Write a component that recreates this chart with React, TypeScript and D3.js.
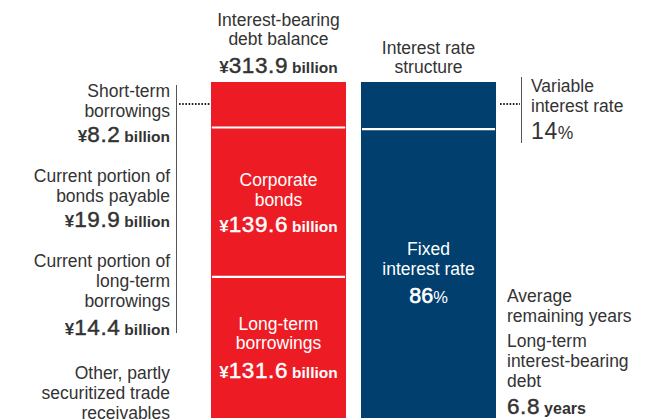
import React from "react";
import * as d3 from "d3";

const W = 659;
const H = 420;

const totalDebt = 313.9;
const debtSegments = [
  { key: "current", value: 42.5 },
  { key: "Corporate bonds", value: 139.6 },
  { key: "Long-term borrowings", value: 131.8 },
];
const debtLabels = [139.6, 131.6];
const currentItems = [
  { lines: ["Short-term", "borrowings"], value: 8.2 },
  { lines: ["Current portion of", "bonds payable"], value: 19.9 },
  { lines: ["Current portion of", "long-term", "borrowings"], value: 14.4 },
];
const otherLabel = ["Other, partly", "securitized trade", "receivables"];
const rateSegments = [
  { key: "Variable interest rate", value: 14 },
  { key: "Fixed interest rate", value: 86 },
];
const avgYears = 6.8;

const RED = "#ED1C24";
const BLUE = "#003F6E";
const TXT = "#333333";
const FONT = "'Liberation Sans', Arial, Helvetica, sans-serif";
const FS = 17.5;

function Billion({ x, y, v, anchor, fill }: { x: number; y: number; v: number; anchor: string; fill: string }) {
  return (
    <text x={x} y={y} textAnchor={anchor as any} fill={fill} fontFamily={FONT}>
      <tspan fontSize={17} fontWeight="bold">¥</tspan>
      <tspan fontSize={22.5} letterSpacing={0.6} stroke={fill} strokeWidth={0.45}>{v.toFixed(1)}</tspan>
      <tspan fontSize={15.5} fontWeight="bold" dx={4}>billion</tspan>
    </text>
  );
}

function Lines({ x, y, lines, anchor, fill, step = 20 }: { x: number; y: number; lines: string[]; anchor: string; fill: string; step?: number }) {
  return (
    <text x={x} y={y} textAnchor={anchor as any} fill={fill} fontFamily={FONT} fontSize={FS}>
      {lines.map((l, i) => (
        <tspan key={i} x={x} y={y + i * step}>{l}</tspan>
      ))}
    </text>
  );
}

export default function App() {
  const yDebt = d3.scaleLinear().domain([0, totalDebt]).range([82, 418]);
  const yRate = d3.scaleLinear().domain([0, 100]).range([82, 418]);
  const xBand = d3.scaleBand().domain(["debt", "rate"]).range([211, 496]).paddingInner(0.1);
  const bw = xBand.bandwidth();
  const xD = xBand("debt")!;
  const xR = xBand("rate")!;

  let acc = 0;
  const debtRects = debtSegments.map((s) => {
    const y0 = acc;
    acc += s.value;
    return { ...s, y0, y1: acc };
  });
  let acc2 = 0;
  const rateRects = rateSegments.map((s) => {
    const y0 = acc2;
    acc2 += s.value;
    return { ...s, y0, y1: acc2 };
  });

  const cxD = xD + bw / 2;
  const cxR = xR + bw / 2;

  const leftY = [97, 182, 267];
  const valueOffsets = [45, 45, 68];

  return (
    <svg width={W} height={H} style={{ position: "absolute", left: 0, top: 0, background: "#fff" }}>
      {/* bars */}
      {debtRects.map((r) => (
        <rect key={r.key} x={xD} y={yDebt(r.y0)} width={bw} height={yDebt(r.y1) - yDebt(r.y0)} fill={RED} />
      ))}
      {debtRects.slice(1).map((r) => (
        <line key={"s" + r.key} x1={xD + 1} x2={xD + bw - 1} y1={yDebt(r.y0)} y2={yDebt(r.y0)} stroke="#fff" strokeWidth={2.2} />
      ))}
      {rateRects.map((r) => (
        <rect key={r.key} x={xR} y={yRate(r.y0)} width={bw} height={yRate(r.y1) - yRate(r.y0)} fill={BLUE} />
      ))}
      {rateRects.slice(1).map((r) => (
        <line key={"s" + r.key} x1={xR + 1} x2={xR + bw - 1} y1={yRate(r.y0)} y2={yRate(r.y0)} stroke="#fff" strokeWidth={2.2} />
      ))}

      {/* titles */}
      <Lines x={cxD} y={26} lines={["Interest-bearing", "debt balance"]} anchor="middle" fill={TXT} step={19} />
      <Billion x={cxD} y={73} v={totalDebt} anchor="middle" fill={TXT} />
      <Lines x={cxR} y={54} lines={["Interest rate", "structure"]} anchor="middle" fill={TXT} step={19} />

      {/* left annotations */}
      <line x1={176.5} x2={176.5} y1={85} y2={333} stroke="#555" strokeWidth={1} />
      <line x1={179} x2={xD} y1={104} y2={104} stroke="#222" strokeWidth={1.8} strokeDasharray="1.6,1.6" />
      {currentItems.map((it, i) => (
        <g key={i}>
          <Lines x={170} y={leftY[i]} lines={it.lines} anchor="end" fill={TXT} />
          <Billion x={170} y={leftY[i] + valueOffsets[i]} v={it.value} anchor="end" fill={TXT} />
        </g>
      ))}
      <Lines x={170} y={379} lines={otherLabel} anchor="end" fill={TXT} />

      {/* inside red */}
      <Lines x={cxD} y={186} lines={["Corporate", "bonds"]} anchor="middle" fill="#fff" step={19.5} />
      <Billion x={cxD} y={232} v={debtLabels[0]} anchor="middle" fill="#fff" />
      <Lines x={cxD} y={330} lines={["Long-term", "borrowings"]} anchor="middle" fill="#fff" step={19} />
      <Billion x={cxD} y={378} v={debtLabels[1]} anchor="middle" fill="#fff" />

      {/* inside blue */}
      <Lines x={cxR} y={255} lines={["Fixed", "interest rate"]} anchor="middle" fill="#fff" step={20} />
      <text x={cxR} y={303} textAnchor="middle" fill="#fff" fontFamily={FONT}>
        <tspan fontSize={21.5} stroke="#fff" strokeWidth={0.6}>{rateSegments[1].value}</tspan>
        <tspan fontSize={16.5}>%</tspan>
      </text>

      {/* right annotations */}
      <line x1={521.5} x2={521.5} y1={77} y2={143} stroke="#555" strokeWidth={1} />
      <line x1={500} x2={520} y1={104} y2={104} stroke="#222" strokeWidth={1.8} strokeDasharray="1.6,1.6" />
      <Lines x={531} y={92} lines={["Variable", "interest rate"]} anchor="start" fill={TXT} />
      <text x={531} y={139} fill={TXT} fontFamily={FONT}>
        <tspan fontSize={23} letterSpacing={0.6}>{rateSegments[0].value}</tspan>
        <tspan fontSize={17.5}>%</tspan>
      </text>

      <Lines x={507} y={302} lines={["Average", "remaining years"]} anchor="start" fill={TXT} />
      <Lines x={507} y={347} lines={["Long-term", "interest-bearing", "debt"]} anchor="start" fill={TXT} />
      <text x={507} y={414} fill={TXT} fontFamily={FONT}>
        <tspan fontSize={22.5} letterSpacing={0.6} stroke={TXT} strokeWidth={0.45}>{avgYears.toFixed(1)}</tspan>
        <tspan fontSize={16} fontWeight="bold" dx={4}>years</tspan>
      </text>
    </svg>
  );
}
